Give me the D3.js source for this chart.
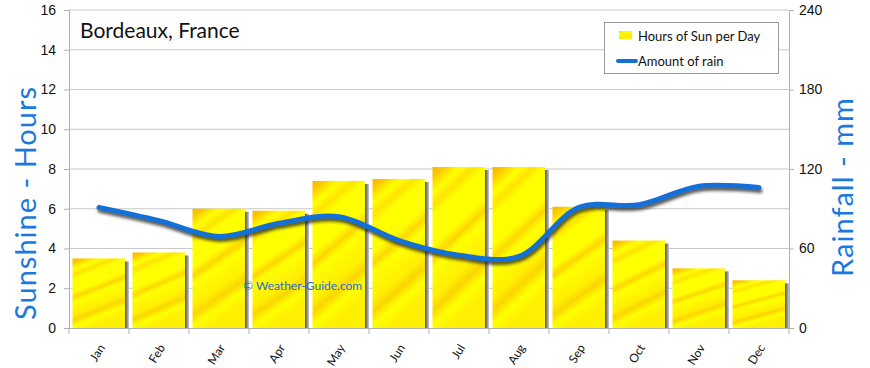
<!DOCTYPE html>
<html><head><meta charset="utf-8">
<script src="https://cdn.jsdelivr.net/npm/d3@7"></script>
<style>body{margin:0;background:#fff;}svg{display:block;font-family:"Comic Sans MS","Lato","DejaVu Sans",sans-serif;}</style>
</head><body>
<svg id="c" width="870" height="368"></svg>
<script>
const months = ["Jan","Feb","Mar","Apr","May","Jun","Jul","Aug","Sep","Oct","Nov","Dec"];
const sunHours = [3.5,3.8,6.0,5.9,7.4,7.5,8.1,8.1,6.1,4.4,3.0,2.4];
const rainMm = [91,81,69,79,84,66,55,54,91,93,107,106];
const leftTicks = [0,2,4,6,8,10,12,14,16];
const rightTicks = [0,60,120,180,240];

const svg = d3.select("#c");
const L=69,R=789,T=10,B=328;
const x = d3.scaleBand().domain(months).range([L,R]);
const yL = d3.scaleLinear().domain([0,16]).range([B,T]);
const yR = d3.scaleLinear().domain([0,240]).range([B,T]);

const defs = svg.append("defs");
const g1 = defs.append("linearGradient").attr("id","sun").attr("x1",0).attr("y1",0).attr("x2",0.3).attr("y2",1);
[[0,"#f8b400"],[0.06,"#fbc800"],[0.11,"#ffe800"],[0.15,"#ffff00"],[0.22,"#fde400"],[0.28,"#ffff00"],[0.45,"#ffff00"],[0.52,"#fbd800"],[0.58,"#ffff00"],[0.75,"#ffef00"],[0.82,"#fad600"],[0.9,"#ffff00"],[1,"#ffef00"]]
  .forEach(s=>g1.append("stop").attr("offset",s[0]).attr("stop-color",s[1]));
const g2 = defs.append("linearGradient").attr("id","shd").attr("x1",0).attr("x2",1).attr("y1",0).attr("y2",0);
[[0,"#555"],[0.5,"#888"],[1,"#ccc"]].forEach(s=>g2.append("stop").attr("offset",s[0]).attr("stop-color",s[1]));
const f = defs.append("filter").attr("id","blur").attr("x","-10%").attr("y","-50%").attr("width","120%").attr("height","200%");
f.append("feGaussianBlur").attr("stdDeviation",1.6);

// grid
svg.append("g").selectAll("line").data(leftTicks.filter(d=>d>0)).join("line")
  .attr("x1",L).attr("x2",R).attr("y1",d=>yL(d)).attr("y2",d=>yL(d))
  .attr("stroke","#c8c8c8").attr("stroke-width",1);

// axes
const axL = svg.append("g").attr("transform",`translate(${L},0)`).call(d3.axisLeft(yL).tickValues(leftTicks).tickSize(5).tickPadding(8));
const axR = svg.append("g").attr("transform",`translate(${R},0)`).call(d3.axisRight(yR).tickValues(rightTicks).tickSize(5).tickPadding(5));
const axB = svg.append("g").attr("transform",`translate(0,${B})`).call(d3.axisBottom(x).tickSize(0).tickFormat(""));
[axL,axR,axB].forEach(a=>{a.select(".domain").attr("stroke","#b0b0b0");a.selectAll(".tick line").attr("stroke","#b0b0b0");
  a.selectAll("text").attr("font-size",14).attr("fill","#111");});
// bottom boundary ticks
svg.append("g").selectAll("line").data(months.concat(["_end"])).join("line")
  .attr("x1",(d,i)=>i<12?x(d):R).attr("x2",(d,i)=>i<12?x(d):R)
  .attr("y1",B).attr("y2",B+6).attr("stroke","#b0b0b0");
svg.append("g").selectAll("text").data(months).join("text")
  .attr("transform",d=>`translate(${x(d)+x.bandwidth()/2+4},${B+18}) rotate(-58)`)
  .attr("text-anchor","end").attr("dominant-baseline","middle").attr("font-size",12).attr("fill","#111").text(d=>d);

// bars
const bw = x.bandwidth()-7.5;
const bars = svg.append("g");
bars.selectAll("rect.s").data(sunHours).join("rect").attr("class","s")
  .attr("x",(d,i)=>x(months[i])+3.5+bw).attr("y",d=>yL(d)+3).attr("width",4).attr("height",d=>B-yL(d)-3)
  .attr("fill","url(#shd)");
bars.selectAll("rect.b").data(sunHours).join("rect").attr("class","b")
  .attr("x",(d,i)=>x(months[i])+3.5).attr("y",d=>yL(d)).attr("width",bw).attr("height",d=>B-yL(d))
  .attr("fill","url(#sun)");

// watermark
svg.append("text").attr("x",243).attr("y",290).attr("font-size",12).attr("fill","#1f6fd0").text("© Weather-Guide.com");

// rain line
const line = d3.line().x((d,i)=>x(months[i])+x.bandwidth()/2).y(d=>yR(d)).curve(d3.curveCatmullRom.alpha(0.5));
svg.append("path").attr("d",line(rainMm)).attr("transform","translate(1,3)").attr("fill","none")
  .attr("stroke","#222").attr("stroke-opacity",0.75).attr("stroke-width",5).attr("stroke-linecap","round").attr("filter","url(#blur)");
svg.append("path").attr("d",line(rainMm)).attr("fill","none")
  .attr("stroke","#1470d6").attr("stroke-width",5).attr("stroke-linecap","round");

// title
svg.append("text").attr("x",80).attr("y",38).attr("font-size",21).attr("fill","#111").text("Bordeaux, France");

// axis titles
svg.append("text").attr("transform","translate(36,203) rotate(-90)").attr("text-anchor","middle")
  .attr("font-size",29).attr("letter-spacing",1).attr("fill","#1b78dc").text("Sunshine - Hours");
svg.append("text").attr("transform","translate(853,187) rotate(-90)").attr("text-anchor","middle")
  .attr("font-size",29).attr("letter-spacing",1).attr("fill","#1b78dc").text("Rainfall - mm");

// legend
const lg = svg.append("g");
lg.append("rect").attr("x",604.5).attr("y",22.5).attr("width",174).attr("height",51).attr("fill","#fff").attr("stroke","#999");
lg.append("rect").attr("x",619).attr("y",31).attr("width",13).attr("height",8).attr("fill","url(#sun)");
lg.append("line").attr("x1",618).attr("x2",636).attr("y1",61).attr("y2",61).attr("stroke","#1470d6").attr("stroke-width",4).attr("stroke-linecap","round");
lg.append("text").attr("x",638).attr("y",41).attr("font-size",13).attr("fill","#111").text("Hours of Sun per Day");
lg.append("text").attr("x",638).attr("y",66).attr("font-size",13).attr("fill","#111").text("Amount of rain");
</script>
</body></html>
